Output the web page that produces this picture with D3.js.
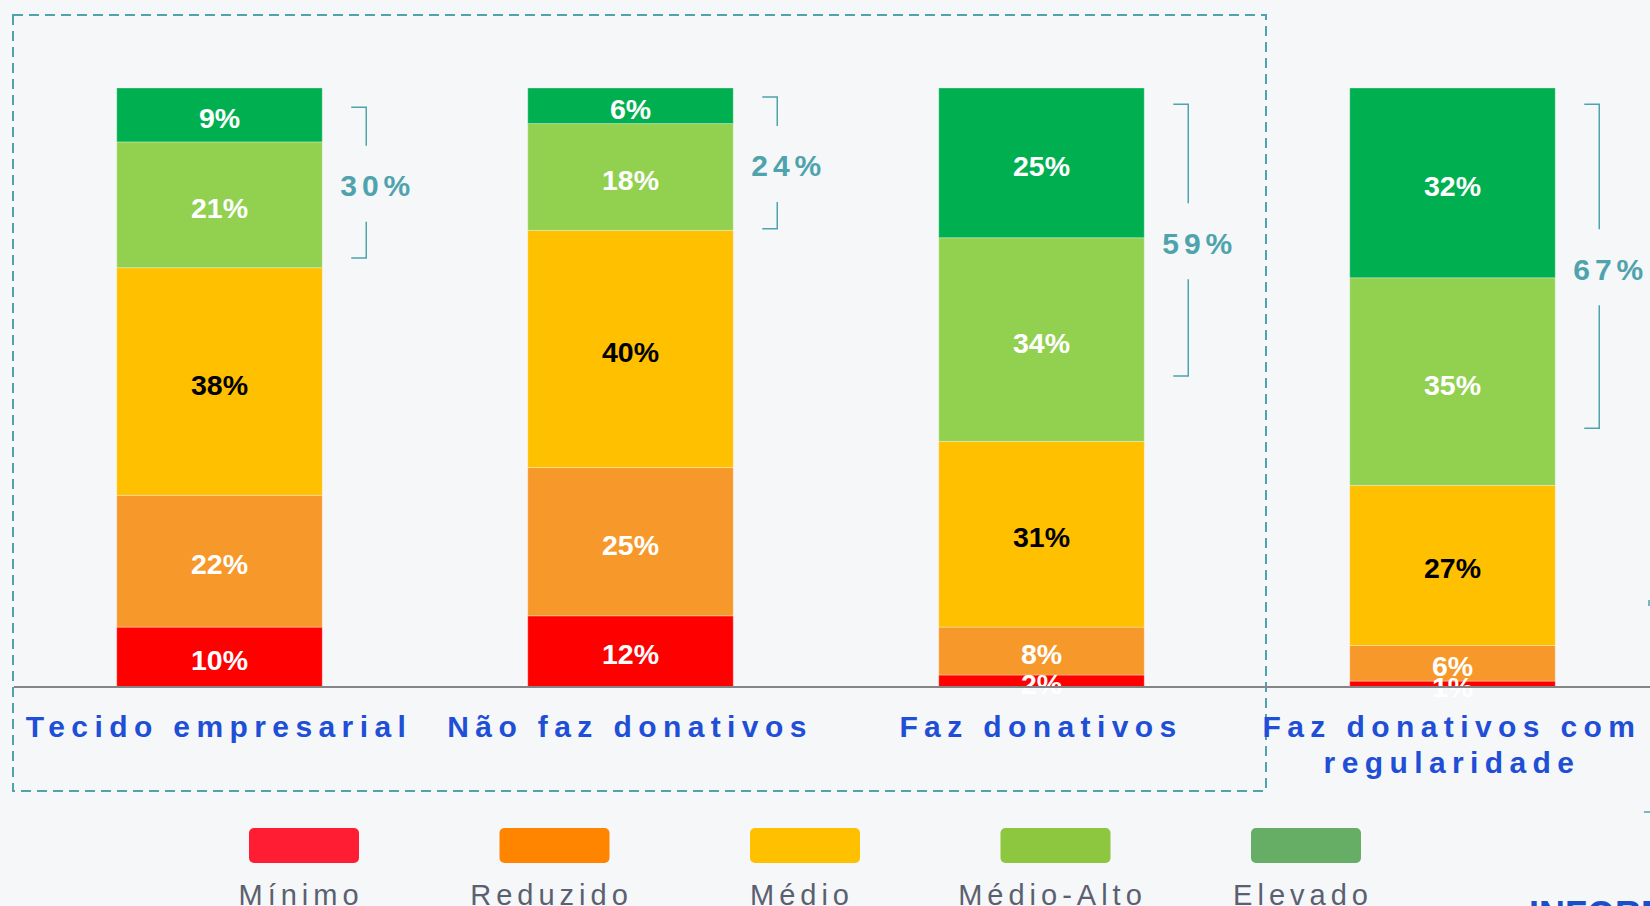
<!DOCTYPE html>
<html>
<head>
<meta charset="utf-8">
<script src="https://d3js.org/d3.v7.min.js"></script>
<style>
  html, body { margin: 0; padding: 0; background: #f6f7f9; overflow: hidden; }
  svg { display: block; font-family: "Liberation Sans", Arial, sans-serif; }
</style>
</head>
<body>
<div class="vis"></div>
<script>
// data
var categories = ["Tecido empresarial", "Não faz donativos", "Faz donativos", "Faz donativos com regularidade"];
var categoryLines = [["Tecido empresarial"], ["Não faz donativos"], ["Faz donativos"], ["Faz donativos com", "regularidade"]];
var levels = ["Mínimo", "Reduzido", "Médio", "Médio-Alto", "Elevado"];
var minimo    = [10, 12, 2, 1];
var reduzido  = [22, 25, 8, 6];
var medio     = [38, 40, 31, 27];
var medioAlto = [21, 18, 34, 35];
var elevado   = [9, 6, 25, 32];
var bracketLabels = ["30%", "24%", "59%", "67%"];
var bracketTop    = [0.968, 0.985, 0.973, 0.973];
var bracketBottom = [0.716, 0.765, 0.519, 0.432];

var barColors    = ["#ff0000", "#f7982b", "#ffc000", "#92d050", "#00b050"];
var legendColors = ["#ff1d34", "#ff8400", "#ffc000", "#8dc63f", "#66ad66"];
var teal = "#4fa3ad";

var width = 1650, height = 906;
var baseY = 687, topY = 88;

var rows = categories.map(function (c, i) {
    return { cat: c, "Mínimo": minimo[i], "Reduzido": reduzido[i], "Médio": medio[i], "Médio-Alto": medioAlto[i], "Elevado": elevado[i] };
});

var series = d3.stack().keys(levels).offset(d3.stackOffsetExpand)(rows);

var x = d3.scaleBand().domain(categories).range([14, 1658]).padding(0.5).paddingOuter(0.25);
var y = d3.scaleLinear().domain([0, 1]).range([baseY, topY]);
var color = d3.scaleOrdinal(levels, barColors);
var legendX = d3.scalePoint().domain(levels).range([304, 1306]);

var svg = d3.select(".vis").append("svg")
    .attr("width", width).attr("height", height)
    .attr("viewBox", [0, 0, width, height]);

svg.append("rect").attr("width", width).attr("height", height).attr("fill", "#f6f7f9");

// dashed frame round the first three bars
svg.append("rect")
    .attr("x", 13).attr("y", 15).attr("width", 1253).attr("height", 776)
    .attr("fill", "none").attr("stroke", teal).attr("stroke-width", 2)
    .attr("stroke-dasharray", "10,6");

// stacked bars
var layer = svg.append("g").selectAll("g")
    .data(series)
    .join("g")
    .attr("fill", function (d) { return color(d.key); });

layer.selectAll("rect")
    .data(function (d) { return d; })
    .join("rect")
    .attr("x", function (d) { return x(d.data.cat); })
    .attr("y", function (d) { return y(d[1]); })
    .attr("width", x.bandwidth())
    .attr("height", function (d) { return y(d[0]) - y(d[1]); })
    .attr("stroke", "#ffffff").attr("stroke-opacity", 0.3).attr("stroke-width", 1);

// value labels
series.forEach(function (s) {
    svg.append("g").selectAll("text")
        .data(s)
        .join("text")
        .attr("x", function (d) { return x(d.data.cat) + x.bandwidth() / 2; })
        .attr("y", function (d) { return (y(d[0]) + y(d[1])) / 2 + 3; })
        .attr("text-anchor", "middle")
        .attr("dominant-baseline", "central")
        .attr("font-size", 28.5).attr("font-weight", "bold")
        .attr("fill", s.key === "Médio" ? "#000000" : "#ffffff")
        .text(function (d) { return d.data[s.key] + "%"; });
});

// baseline
svg.append("line")
    .attr("x1", 14).attr("x2", width).attr("y1", baseY).attr("y2", baseY)
    .attr("stroke", "#858585").attr("stroke-width", 2);

// category labels
categories.forEach(function (c, i) {
    var t = svg.append("text")
        .attr("x", x(c) + x.bandwidth() / 2)
        .attr("y", 737)
        .attr("text-anchor", "middle")
        .attr("font-size", 30).attr("font-weight", "bold")
        .attr("letter-spacing", 6.4)
        .attr("fill", "#1f4fd6");
    categoryLines[i].forEach(function (line, j) {
        t.append("tspan")
            .attr("x", x(c) + x.bandwidth() / 2 - 0.5)
            .attr("dy", j === 0 ? 0 : 36)
            .text(line);
    });
});

// brackets over the two top segments
categories.forEach(function (c, i) {
    var bx = x(c) + x.bandwidth() + 44;
    var y0 = y(bracketTop[i]), y1 = y(bracketBottom[i]);
    var mid = (y0 + y1) / 2 + 3;
    var g = svg.append("g").attr("fill", "none").attr("stroke", teal).attr("stroke-width", 1.5);
    g.append("path").attr("d", "M" + (bx - 15) + "," + y0 + "H" + bx + "V" + (mid - 40));
    g.append("path").attr("d", "M" + bx + "," + (mid + 36) + "V" + y1 + "H" + (bx - 15));
    svg.append("text")
        .attr("x", bx + 9 + 2.5).attr("y", mid)
        .attr("text-anchor", "middle").attr("dominant-baseline", "central")
        .attr("font-size", 30).attr("font-weight", "bold")
        .attr("letter-spacing", 5)
        .attr("fill", teal)
        .text(bracketLabels[i]);
});

// cut-off pieces on the right edge
svg.append("path").attr("d", "M1644,812H1650").attr("stroke", teal).attr("stroke-width", 1.5).attr("fill", "none");
svg.append("path").attr("d", "M1649,600V606").attr("stroke", teal).attr("stroke-width", 1.5).attr("fill", "none");
svg.append("text")
    .attr("x", 1529).attr("y", 927)
    .attr("font-size", 36).attr("font-weight", "bold")
    .attr("fill", "#1a4fc8")
    .text("INFORMA");

// legend
var lg = svg.append("g").selectAll("g")
    .data(levels)
    .join("g")
    .attr("transform", function (d) { return "translate(" + legendX(d) + ",0)"; });

lg.append("rect")
    .attr("x", -55).attr("y", 828).attr("width", 110).attr("height", 35)
    .attr("rx", 5)
    .attr("fill", function (d, i) { return legendColors[i]; });

lg.append("text")
    .attr("x", -3).attr("y", 905)
    .attr("text-anchor", "middle")
    .attr("font-size", 29)
    .attr("letter-spacing", 5)
    .attr("fill", "#5b6070")
    .text(function (d) { return d; });
</script>
</body>
</html>
